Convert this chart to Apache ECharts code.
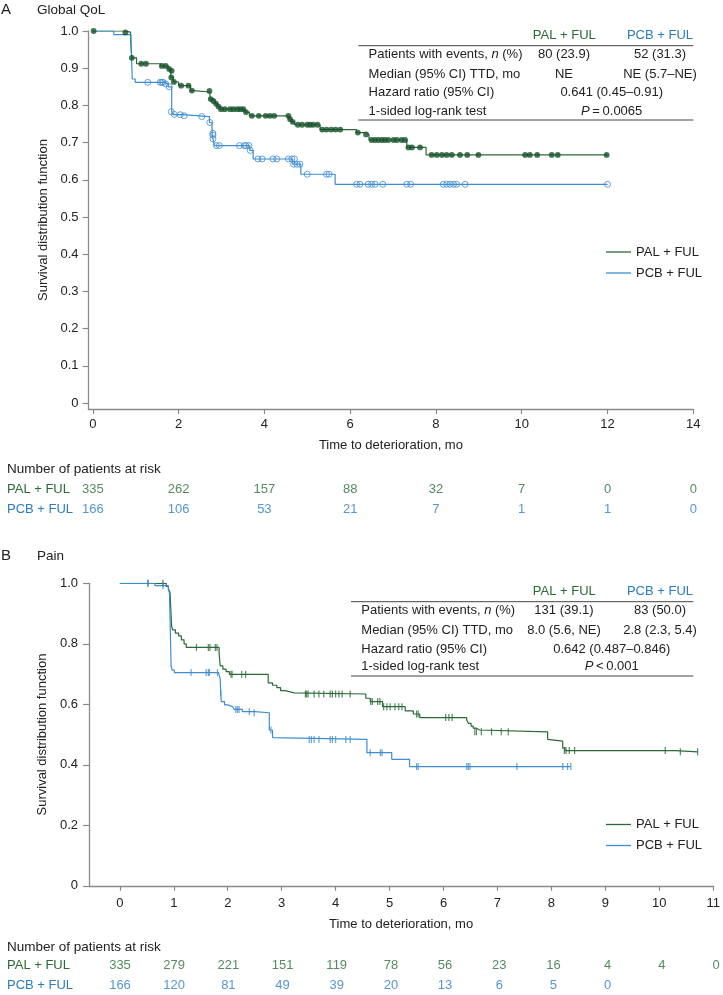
<!DOCTYPE html>
<html><head><meta charset="utf-8">
<script src="https://cdn.jsdelivr.net/npm/echarts@6/dist/echarts.min.js"></script>
<style>html,body{margin:0;padding:0;background:#fff}#c{width:723px;height:995px}</style>
</head><body><div id="c"></div><script>
// ---------- Panel A: Global QoL ----------
const qolPalSteps = [[0,1.0],[0.75,0.997],[0.88,0.98],[0.91,0.928],[1.02,0.912],[1.58,0.906],[1.76,0.898],[1.80,0.893],[1.82,0.875],[1.88,0.863],[2.0,0.853],[2.28,0.840],[2.35,0.836],[2.73,0.817],[2.79,0.812],[2.85,0.805],[2.91,0.797],[2.97,0.790],[3.55,0.782],[3.65,0.772],[4.57,0.763],[4.63,0.756],[4.70,0.748],[5.30,0.735],[6.15,0.727],[6.35,0.722],[6.44,0.707],[7.32,0.687],[7.77,0.667],[12.0,0.667]];
const qolPalCens = [[0.02,1.0],[0.76,0.996],[0.91,0.928],[1.13,0.912],[1.24,0.912],[1.61,0.906],[1.70,0.906],[1.78,0.898],[1.84,0.893],[1.83,0.875],[1.89,0.863],[2.06,0.853],[2.23,0.853],[2.31,0.840],[2.72,0.839],[2.75,0.817],[2.81,0.812],[2.87,0.805],[2.93,0.797],[2.99,0.790],[3.08,0.790],[3.20,0.790],[3.28,0.790],[3.37,0.790],[3.44,0.790],[3.51,0.790],[3.57,0.782],[3.71,0.772],[3.87,0.772],[4.03,0.772],[4.13,0.772],[4.23,0.772],[4.56,0.772],[4.60,0.763],[4.66,0.756],[4.78,0.748],[4.88,0.748],[5.0,0.748],[5.07,0.748],[5.14,0.748],[5.24,0.748],[5.35,0.735],[5.45,0.735],[5.56,0.735],[5.66,0.735],[5.77,0.735],[6.18,0.727],[6.37,0.722],[6.50,0.707],[6.58,0.707],[6.66,0.707],[6.74,0.707],[6.81,0.707],[6.89,0.707],[7.01,0.707],[7.09,0.707],[7.20,0.707],[7.28,0.707],[7.36,0.687],[7.44,0.687],[7.63,0.687],[7.90,0.667],[8.02,0.667],[8.14,0.667],[8.25,0.667],[8.37,0.667],[8.56,0.667],[8.73,0.667],[8.99,0.667],[10.08,0.667],[10.19,0.667],[10.36,0.667],[10.70,0.667],[10.84,0.667],[11.98,0.667]];
const qolPcbSteps = [[0,1.0],[0.49,0.99],[0.89,0.97],[0.92,0.871],[0.99,0.862],[1.68,0.858],[1.76,0.850],[1.84,0.783],[1.88,0.775],[2.10,0.770],[2.72,0.754],[2.78,0.725],[2.79,0.720],[2.80,0.710],[2.84,0.692],[3.66,0.679],[3.74,0.656],[4.66,0.642],[4.85,0.615],[5.65,0.588],[12.0,0.588]];
const qolPcbCens = [[1.28,0.862],[1.57,0.862],[1.61,0.862],[1.64,0.862],[1.70,0.858],[1.78,0.850],[1.83,0.783],[1.90,0.776],[2.04,0.775],[2.13,0.772],[2.54,0.770],[2.73,0.754],[2.80,0.725],[2.80,0.720],[2.80,0.710],[2.88,0.692],[2.95,0.692],[3.42,0.692],[3.53,0.692],[3.57,0.692],[3.64,0.692],[3.67,0.679],[3.85,0.656],[3.95,0.656],[4.20,0.656],[4.29,0.656],[4.56,0.656],[4.64,0.656],[4.70,0.656],[4.68,0.642],[4.76,0.642],[4.83,0.642],[5.0,0.615],[5.45,0.615],[5.51,0.615],[6.15,0.588],[6.23,0.588],[6.42,0.588],[6.50,0.588],[6.58,0.588],[6.76,0.588],[7.32,0.588],[7.41,0.588],[8.17,0.588],[8.25,0.588],[8.33,0.588],[8.41,0.588],[8.48,0.588],[8.68,0.588],[12.0,0.588]];
const xTicksA = [0,2,4,6,8,10,12,14];
const yTicksA = [0,0.1,0.2,0.3,0.4,0.5,0.6,0.7,0.8,0.9,1.0];
const riskTimesA = [0,2,4,6,8,10,12,14];
const riskPalA = [335,262,157,88,32,7,0,0];
const riskPcbA = [166,106,53,21,7,1,1,0];
const tableA = [
  ['Patients with events, {i|n} (%)','80 (23.9)','52 (31.3)'],
  ['Median (95% CI) TTD, mo','NE','NE (5.7\u2013NE)'],
  ['Hazard ratio (95% CI)','0.641 (0.45\u20130.91)'],
  ['1-sided log-rank test','{i|P}\u2009=\u20090.0065']
];
// ---------- Panel B: Pain ----------
const painPalSteps = [[0,1.0],[0.86,0.99],[0.90,0.98],[0.93,0.97],[0.96,0.857],[0.98,0.846],[1.03,0.835],[1.09,0.826],[1.14,0.813],[1.19,0.80],[1.23,0.788],[1.84,0.769],[1.86,0.727],[1.91,0.716],[1.97,0.708],[2.03,0.699],[2.75,0.671],[2.83,0.663],[2.91,0.655],[2.98,0.645],[3.06,0.642],[3.14,0.638],[3.23,0.634],[4.56,0.62],[4.64,0.609],[4.87,0.592],[5.29,0.578],[5.44,0.568],[5.56,0.556],[6.43,0.548],[6.46,0.537],[6.51,0.528],[6.55,0.521],[6.61,0.515],[6.67,0.509],[7.93,0.484],[7.96,0.478],[8.21,0.455],[8.25,0.447],[10.30,0.443],[10.71,0.443]];
const painPalCens = [[0.52,1.0],[0.80,1.0],[1.42,0.788],[1.64,0.788],[1.67,0.788],[1.77,0.788],[1.80,0.788],[2.06,0.699],[2.08,0.699],[2.26,0.699],[2.33,0.699],[3.44,0.634],[3.46,0.634],[3.49,0.634],[3.60,0.634],[3.69,0.634],[3.78,0.634],[3.90,0.634],[3.94,0.634],[4.0,0.634],[4.06,0.634],[4.12,0.634],[4.27,0.634],[4.65,0.609],[4.68,0.609],[4.78,0.609],[4.82,0.609],[4.89,0.592],[4.95,0.592],[5.01,0.592],[5.10,0.592],[5.17,0.592],[5.23,0.592],[5.50,0.568],[5.53,0.568],[6.04,0.556],[6.10,0.556],[6.16,0.556],[6.58,0.509],[6.61,0.509],[6.70,0.509],[6.89,0.509],[7.07,0.509],[7.20,0.509],[8.24,0.447],[8.27,0.447],[8.33,0.447],[8.43,0.447],[10.11,0.447],[10.39,0.443],[10.71,0.443]];
const painPcbSteps = [[0,1.0],[0.65,0.992],[0.90,0.983],[0.92,0.967],[0.95,0.727],[0.97,0.713],[1.01,0.705],[1.83,0.699],[1.86,0.683],[1.87,0.638],[1.88,0.609],[1.94,0.598],[2.0,0.592],[2.09,0.587],[2.12,0.583],[2.27,0.576],[2.50,0.572],[2.77,0.515],[2.83,0.49],[2.86,0.484],[4.58,0.44],[5.04,0.418],[5.37,0.394],[8.36,0.394]];
const painPcbCens = [[0.52,1.0],[0.80,0.992],[1.32,0.705],[1.60,0.705],[1.64,0.705],[1.66,0.705],[1.81,0.705],[1.87,0.638],[2.15,0.583],[2.18,0.583],[2.21,0.583],[2.40,0.576],[2.49,0.572],[2.80,0.515],[3.51,0.484],[3.55,0.484],[3.60,0.484],[3.69,0.484],[3.90,0.484],[3.94,0.484],[4.0,0.484],[4.19,0.484],[4.27,0.484],[4.64,0.44],[4.83,0.44],[4.86,0.44],[5.50,0.394],[5.53,0.394],[6.43,0.394],[6.46,0.394],[6.49,0.394],[7.36,0.394],[8.21,0.394],[8.30,0.394],[8.36,0.394]];
const xTicksB = [0,1,2,3,4,5,6,7,8,9,10,11];
const riskTimesB = [0,1,2,3,4,5,6,7,8,9,10,11];
const riskPalB = [335,279,221,151,119,78,56,23,16,4,4,0];
const riskPcbB = [166,120,81,49,39,20,13,6,5,0];
const tableB = [
  ['Patients with events, {i|n} (%)','131 (39.1)','83 (50.0)'],
  ['Median (95% CI) TTD, mo','8.0 (5.6, NE)','2.8 (2.3, 5.4)'],
  ['Hazard ratio (95% CI)','0.642 (0.487\u20130.846)'],
  ['1-sided log-rank test','{i|P}\u2009<\u20090.001']
];
const armNames = ['PAL + FUL','PCB + FUL'];

// ---------- styling ----------
const FONT = '"Liberation Sans", Arial, Helvetica, sans-serif';
const GREEN = '#2c6a3a', GREEN_DOT = '#17522a', GREEN_TXT = '#2a6b37';
const BLUE = '#3f8dcf', BLUE_TXT = '#2b7cc1';
const AXC = '#8a8a8a', TXT = '#222';
const fs = 13;

function axisX(grid, min, max, ticks, margin, gap) {
  return {gridIndex: grid, type: 'value', min: min, max: max,
    axisLine: {show: true, onZero: false, lineStyle: {color: AXC, width: 1.3}},
    axisTick: {show: true, length: 5, customValues: ticks, lineStyle: {color: AXC, width: 1.2}},
    axisLabel: {customValues: ticks, margin: margin, fontSize: fs, color: TXT, fontFamily: FONT},
    splitLine: {show: false},
    name: 'Time to deterioration, mo', nameLocation: 'middle', nameGap: gap,
    nameTextStyle: {fontSize: fs, color: TXT, fontFamily: FONT}};
}
function axisY(grid, min, max, ticks, fmt) {
  return {gridIndex: grid, type: 'value', min: min, max: max,
    axisLine: {show: true, onZero: false, lineStyle: {color: AXC, width: 1.3}},
    axisTick: {show: true, length: 6, customValues: ticks, lineStyle: {color: AXC, width: 1.2}},
    axisLabel: {customValues: ticks, margin: 10, fontSize: fs, color: TXT, fontFamily: FONT, formatter: fmt},
    splitLine: {show: false},
    name: 'Survival distribution function', nameLocation: 'middle', nameRotate: 90, nameGap: 37,
    nameTextStyle: {fontSize: fs, color: TXT, fontFamily: FONT}};
}
function riskY(grid, margin) {
  return {gridIndex: grid, type: 'category', data: armNames, inverse: true,
    axisLine: {show: false}, axisTick: {show: false}, splitLine: {show: false},
    axisLabel: {show: true, align: 'left', margin: margin,
      formatter: v => (v === armNames[0] ? '{g|' : '{b|') + v + '}',
      rich: {g: {color: GREEN_TXT, fontSize: fs, fontFamily: FONT}, b: {color: BLUE_TXT, fontSize: fs, fontFamily: FONT}}}};
}
function stepLine(name, xi, data, color) {
  return {name: name, type: 'line', step: 'end', xAxisIndex: xi, yAxisIndex: xi, data: data,
    showSymbol: false, symbol: 'none', color: color, lineStyle: {color: color, width: 1.2}, silent: true, z: 2};
}
function riskSeries(xi, times, vals, arm, color) {
  return {type: 'scatter', xAxisIndex: xi, yAxisIndex: xi, symbolSize: 1, silent: true,
    itemStyle: {color: 'transparent'},
    data: vals.map((v, i) => [times[i], arm, v]),
    label: {show: true, position: 'inside', formatter: p => String(p.value[2]), color: color, fontSize: fs, fontFamily: FONT}};
}
function tableGraphics(rows, y0, xl, xr, headY, rowYs, botY) {
  const g = [];
  const rich = {i: {fontStyle: 'italic', fontSize: fs, fontFamily: FONT, fill: TXT}};
  const txt = (s, x, y, align, fill) => ({type: 'text', x: x, y: y, silent: true,
    style: {text: s, fill: fill || TXT, fontSize: fs, fontFamily: FONT, align: align, verticalAlign: 'middle',
      textAlign: align, textVerticalAlign: 'middle', rich: rich}});
  g.push(txt(armNames[0], 564.3, headY, 'center', GREEN_TXT));
  g.push(txt(armNames[1], 660, headY, 'center', BLUE_TXT));
  g.push({type: 'line', silent: true, shape: {x1: xl, y1: y0, x2: xr, y2: y0}, style: {stroke: '#444', lineWidth: 1}});
  g.push({type: 'line', silent: true, shape: {x1: xl, y1: botY, x2: xr, y2: botY}, style: {stroke: '#444', lineWidth: 1}});
  rows.forEach((r, i) => {
    g.push(txt(r[0], xl + 10.3, rowYs[i], 'left'));
    if (r.length === 3) { g.push(txt(r[1], 564, rowYs[i], 'center')); g.push(txt(r[2], 660, rowYs[i], 'center')); }
    else g.push(txt(r[1], 611.7, rowYs[i], 'center'));
  });
  return g;
}
function label(s, x, y, size) {
  return {type: 'text', x: x, y: y, silent: true,
    style: {text: s, fill: TXT, fontSize: size, fontFamily: FONT, align: 'left', verticalAlign: 'middle', textAlign: 'left', textVerticalAlign: 'middle'}};
}

const fmtA = v => v === 0 ? '0' : v.toFixed(1);
const fmtB = v => v === 0 ? '0' : v.toFixed(1);

const option = {
  animation: false,
  backgroundColor: '#fff',
  textStyle: {fontFamily: FONT},
  grid: [
    {left: 88.5, top: 31, width: 604.8, height: 378},
    {left: 89, top: 583.3, width: 627, height: 302.5},
    {left: 88.5, top: 478.85, width: 604.8, height: 40.6},
    {left: 89, top: 956.2, width: 627, height: 42}
  ],
  xAxis: [
    axisX(0, -0.1, 14, xTicksA, 9, 30),
    axisX(1, -0.572, 11, xTicksB, 11, 32),
    {gridIndex: 2, type: 'value', min: -0.1, max: 14, show: false},
    {gridIndex: 3, type: 'value', min: -0.572, max: 11, show: false}
  ],
  yAxis: [
    axisY(0, -0.016, 1, yTicksA, fmtA),
    Object.assign(axisY(1, 0, 1, null, fmtB), {interval: 0.2,
      axisTick: {show: true, length: 6, lineStyle: {color: AXC, width: 1.2}},
      axisLabel: {margin: 11, fontSize: fs, color: TXT, fontFamily: FONT, formatter: fmtB}}),
    riskY(2, 81.5),
    riskY(3, 82)
  ],
  legend: [
    {data: armNames, orient: 'vertical', left: 601, top: 240.5, icon: 'rect', itemWidth: 25, itemHeight: 1.3, itemGap: 8,
      selectedMode: false, textStyle: {fontSize: fs, color: TXT, fontFamily: FONT}},
    {data: armNames, orient: 'vertical', left: 601, top: 813, icon: 'rect', itemWidth: 25, itemHeight: 1.3, itemGap: 8,
      selectedMode: false, textStyle: {fontSize: fs, color: TXT, fontFamily: FONT}}
  ],
  series: [
    stepLine(armNames[0], 0, qolPalSteps, GREEN),
    stepLine(armNames[1], 0, qolPcbSteps, BLUE),
    {type: 'scatter', xAxisIndex: 0, yAxisIndex: 0, data: qolPalCens, symbol: 'circle', symbolSize: 5.8, silent: true, z: 3,
      itemStyle: {color: GREEN_DOT}},
    {type: 'scatter', xAxisIndex: 0, yAxisIndex: 0, data: qolPcbCens, symbol: 'circle', symbolSize: 6, silent: true, z: 3,
      itemStyle: {color: 'rgba(255,255,255,0)', borderColor: BLUE, borderWidth: 1}},
    stepLine(armNames[0], 1, painPalSteps, GREEN),
    stepLine(armNames[1], 1, painPcbSteps, BLUE),
    {type: 'scatter', xAxisIndex: 1, yAxisIndex: 1, data: painPalCens, symbol: 'rect', symbolSize: [1.2, 7], silent: true, z: 3,
      itemStyle: {color: GREEN}},
    {type: 'scatter', xAxisIndex: 1, yAxisIndex: 1, data: painPcbCens, symbol: 'rect', symbolSize: [1.2, 7], silent: true, z: 3,
      itemStyle: {color: BLUE}},
    riskSeries(2, riskTimesA, riskPalA, armNames[0], GREEN_TXT),
    riskSeries(2, riskTimesA, riskPcbA, armNames[1], BLUE_TXT),
    riskSeries(3, riskTimesB, riskPalB, armNames[0], GREEN_TXT),
    riskSeries(3, riskTimesB, riskPcbB, armNames[1], BLUE_TXT)
  ],
  graphic: [].concat(
    [label('A', 1, 10, 15), label('Global QoL', 37, 10, 13.5),
     label('B', 1, 556, 15), label('Pain', 37, 556, 13.5),
     label('Number of patients at risk', 7, 469.3, 13.5),
     label('Number of patients at risk', 7, 947.7, 13.5)],
    tableGraphics(tableA, 45.7, 358.3, 693.3, 35.7, [54.3, 74, 92.7, 111], 120),
    tableGraphics(tableB, 601.7, 351, 693.3, 591.7, [610.7, 630, 649, 666.7], 676)
  )
};
const chart = echarts.init(document.getElementById('c'), null, {renderer: 'canvas'});
chart.setOption(option);
</script></body></html>
